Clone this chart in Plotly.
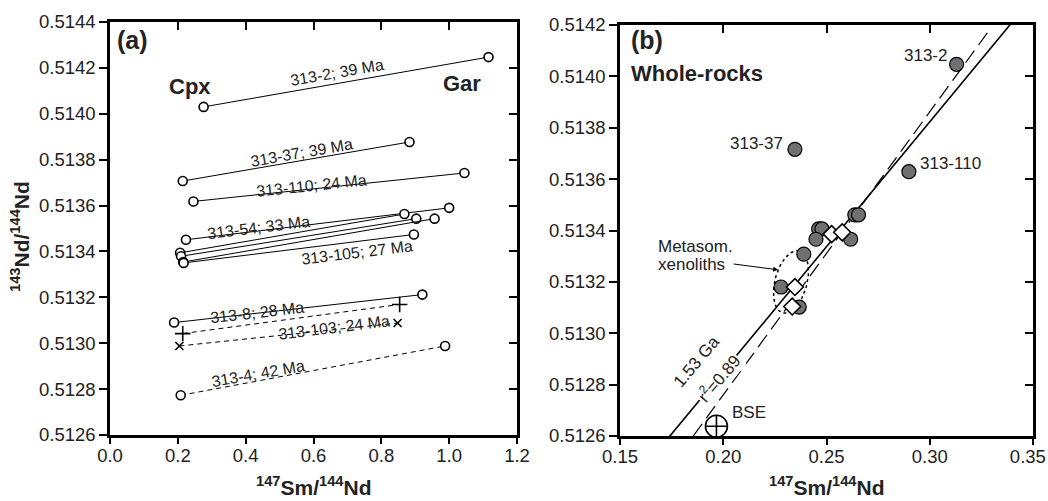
import numpy as np
import plotly.graph_objects as go

W, H = 1048, 501
FONT = "Liberation Sans, Arial, Helvetica, sans-serif"

# ---------------- Panel (a): Cpx - Gar two-point isochrons ----------------
cpx_x = [0.276, 0.2145, 0.246, 0.224, 0.2066, 0.2095, 0.216, 0.217, 0.189, 0.2145, 0.2045, 0.2085]
cpx_y = [0.51403, 0.513707, 0.513618, 0.513451, 0.513394, 0.513379, 0.513354, 0.51335,
         0.51309, 0.513042, 0.512988, 0.512773]
gar_x = [1.116, 0.883, 1.045, 1.0, 0.868, 0.903, 0.957, 0.896, 0.921, 0.854, 0.848, 0.988]
gar_y = [0.514247, 0.513877, 0.513742, 0.51359, 0.513563, 0.513543, 0.513543, 0.513474,
         0.513212, 0.513169, 0.513088, 0.512988]
pair_dash = ["solid"] * 9 + ["dash", "dash", "dash"]
pair_symbol = ["circle"] * 9 + ["cross-thin-open", "x-thin-open", "circle"]

lab_a_text = ["313-2; 39 Ma", "313-37; 39 Ma", "313-110; 24 Ma", "313-54; 33 Ma",
              "313-105; 27 Ma", "313-8; 28 Ma", "313-103; 24 Ma", "313-4; 42 Ma"]
lab_a_x = [0.669, 0.566, 0.595, 0.437, 0.728, 0.433, 0.66, 0.4376]
lab_a_y = [0.514178, 0.513833, 0.513688, 0.513506, 0.513397, 0.513136, 0.51307, 0.512867]
lab_a_angle = [-10, -10, -6, -7, -7, -6.5, -7, -10]

# ---------------- Panel (b): whole rocks ----------------
wr_x = [0.313, 0.2347, 0.2899, 0.2637, 0.2655, 0.2462, 0.2478, 0.2449, 0.2617, 0.2390, 0.2280, 0.2368]
wr_y = [0.514047, 0.513716, 0.513629, 0.513461, 0.513461, 0.513406, 0.513406, 0.513366,
        0.513366, 0.513308, 0.51318, 0.513102]
wr_labels = ["313-2", "313-37", "313-110"]
dia_x = [0.2525, 0.2576, 0.2347, 0.2334]
dia_y = [0.513386, 0.513393, 0.51318, 0.513104]
bse_x, bse_y = 0.1967, 0.512638

iso_slope, iso_intercept = 0.00972, 0.510907      # 1.53 Ga reference line
fit_slope, fit_intercept = 0.01102, 0.510556      # regression, r2 = 0.89
fit_y_end = 0.514174

ell_cx, ell_cy = 0.2328, 0.5132                   # metasomatised xenoliths envelope
ell_a_px, ell_b_px, ell_angle = 32, 16, 75

# tick values
ticks_a_x = [0.0, 0.2, 0.4, 0.6, 0.8, 1.0, 1.2]
ticks_b_x = [0.15, 0.20, 0.25, 0.30, 0.35]
ticks_a_y = [0.5126, 0.5128, 0.5130, 0.5132, 0.5134, 0.5136, 0.5138, 0.5140, 0.5142, 0.5144]
ticks_b_y = [0.5126, 0.5128, 0.5130, 0.5132, 0.5134, 0.5136, 0.5138, 0.5140, 0.5142]

# ---------------- layout geometry ----------------
dom_a_x = [110 / W, 517 / W]
dom_a_y = [(H - 435) / H, (H - 22) / H]
dom_b_x = [620 / W, 1033 / W]
dom_b_y = [(H - 436) / H, (H - 25) / H]
rng_a_x, rng_a_y = [0.0, 1.2], [0.5126, 0.5144]
rng_b_x, rng_b_y = [0.15, 0.35], [0.5126, 0.5142]

fig = go.Figure()

for i in range(len(cpx_x)):
    sym = pair_symbol[i]
    size = 9 if sym == "circle" else (11 if sym.startswith("cross") else 8)
    fig.add_trace(go.Scatter(
        x=[cpx_x[i], gar_x[i]], y=[cpx_y[i], gar_y[i]], mode="lines+markers",
        line=dict(color="black", width=1, dash="5px,4px" if pair_dash[i] == "dash" else "solid"),
        marker=dict(symbol=sym, size=size, color="white" if sym == "circle" else "black",
                    line=dict(color="black", width=1.6)),
        xaxis="x", yaxis="y", showlegend=False, hoverinfo="skip"))

# panel (b) lines
xb = np.linspace(rng_b_x[0], rng_b_x[1], 50)
fig.add_trace(go.Scatter(x=xb, y=iso_intercept + iso_slope * xb, mode="lines",
                         line=dict(color="black", width=1.6), xaxis="x2", yaxis="y2",
                         showlegend=False, hoverinfo="skip"))
xd0 = (rng_b_y[0] - fit_intercept) / fit_slope
xd1 = (fit_y_end - fit_intercept) / fit_slope
xd = np.linspace(xd0, xd1, 50)
fig.add_trace(go.Scatter(x=xd, y=fit_intercept + fit_slope * xd, mode="lines",
                         line=dict(color="black", width=1.2, dash="15px,7px"), xaxis="x2", yaxis="y2",
                         showlegend=False, hoverinfo="skip"))

# ellipse (dotted) built from its parameters in pixel space
pxx = (dom_b_x[1] - dom_b_x[0]) * W / (rng_b_x[1] - rng_b_x[0])
pxy = (dom_b_y[1] - dom_b_y[0]) * H / (rng_b_y[1] - rng_b_y[0])
t = np.linspace(0, 2 * np.pi, 120)
th = np.deg2rad(ell_angle)
ex = ell_a_px * np.cos(t) * np.cos(th) - ell_b_px * np.sin(t) * np.sin(th)
ey = ell_a_px * np.cos(t) * np.sin(th) + ell_b_px * np.sin(t) * np.cos(th)
fig.add_trace(go.Scatter(x=ell_cx + ex / pxx, y=ell_cy + ey / pxy, mode="lines",
                         line=dict(color="black", width=1.5, dash="3px,3px"),
                         xaxis="x2", yaxis="y2", showlegend=False, hoverinfo="skip"))

fig.add_trace(go.Scatter(x=wr_x, y=wr_y, mode="markers",
                         marker=dict(symbol="circle", size=14, color="#707070",
                                     line=dict(color="black", width=1.2)),
                         xaxis="x2", yaxis="y2", showlegend=False, hoverinfo="skip"))
fig.add_trace(go.Scatter(x=dia_x, y=dia_y, mode="markers",
                         marker=dict(symbol="diamond", size=13, color="white",
                                     line=dict(color="black", width=1.6)),
                         xaxis="x2", yaxis="y2", showlegend=False, hoverinfo="skip"))
fig.add_trace(go.Scatter(x=[bse_x], y=[bse_y], mode="markers",
                         marker=dict(symbol="circle-cross-open", size=22, color="black",
                                     line=dict(color="black", width=1.6)),
                         xaxis="x2", yaxis="y2", showlegend=False, hoverinfo="skip",
                         cliponaxis=False))

# dummy traces for extra tick-only axes
for xa, ya in [("x3", "y"), ("x", "y3"), ("x4", "y2"), ("x2", "y4"), ("x5", "y"), ("x6", "y2")]:
    fig.add_trace(go.Scatter(x=[None], y=[None], xaxis=xa, yaxis=ya, showlegend=False,
                             hoverinfo="skip"))

tickfont = dict(family=FONT, size=18.5, color="#222")
common = dict(showgrid=False, zeroline=False, showline=True, linecolor="black", linewidth=2.5,
              mirror=True, ticks="outside", ticklen=8, tickwidth=2, tickcolor="black",
              tickfont=tickfont, automargin=False, tickmode="array", ticklabeloverflow="allow")
inside = dict(showgrid=False, zeroline=False, showline=False, ticks="inside", ticklen=8,
              tickwidth=2, tickcolor="black", showticklabels=False, automargin=False,
              tickmode="array")
outside = dict(inside, ticks="outside")
xcommon = dict(common, ticklen=2)

ticktext_b_x = [f"{v:.2f}" for v in ticks_b_x]
ticktext_b_x[-1] = ticktext_b_x[-1] + "\u00a0\u00a0"   # keep the last label inside the page

fig.update_layout(
    width=W, height=H, margin=dict(l=0, r=0, t=0, b=0),
    paper_bgcolor="white", plot_bgcolor="white",
    xaxis=dict(domain=dom_a_x, range=rng_a_x, tickvals=ticks_a_x,
               ticktext=[f"{v:.1f}" for v in ticks_a_x], anchor="y", **xcommon),
    yaxis=dict(domain=dom_a_y, range=rng_a_y, tickvals=ticks_a_y,
               ticktext=[f"{v:.4f}" for v in ticks_a_y], anchor="x", **common),
    xaxis2=dict(domain=dom_b_x, range=rng_b_x, tickvals=ticks_b_x,
                ticktext=ticktext_b_x, anchor="y2", **xcommon),
    yaxis2=dict(domain=dom_b_y, range=rng_b_y, tickvals=ticks_b_y,
                ticktext=[f"{v:.4f}" for v in ticks_b_y], anchor="x2", **common),
    xaxis3=dict(overlaying="x", side="top", anchor="y", range=rng_a_x, tickvals=ticks_a_x, **inside),
    yaxis3=dict(overlaying="y", side="right", anchor="x", range=rng_a_y, tickvals=ticks_a_y, **inside),
    xaxis4=dict(overlaying="x2", side="top", anchor="y2", range=rng_b_x, tickvals=ticks_b_x, **inside),
    yaxis4=dict(overlaying="y2", side="right", anchor="x2", range=rng_b_y, tickvals=ticks_b_y, **inside),
    xaxis5=dict(overlaying="x", side="bottom", anchor="y", range=rng_a_x, tickvals=ticks_a_x, **outside),
    xaxis6=dict(overlaying="x2", side="bottom", anchor="y2", range=rng_b_x, tickvals=ticks_b_x, **outside),
)

ann = []
lab_font = dict(family=FONT, size=16, color="#222")
for txt, x, y, a in zip(lab_a_text, lab_a_x, lab_a_y, lab_a_angle):
    ann.append(dict(x=x, y=y, xref="x", yref="y", text=txt, textangle=a, showarrow=False,
                    font=lab_font))
bold_big = dict(family=FONT, size=25, color="#222")
bold_mid = dict(family=FONT, size=22, color="#222")
ann += [
    dict(x=0.014, y=0.514323, xref="x", yref="y", text="<b>(a)</b>", xanchor="left",
         yanchor="middle", showarrow=False, font=bold_big),
    dict(x=0.236, y=0.51412, xref="x", yref="y", text="<b>Cpx</b>", showarrow=False, font=bold_mid),
    dict(x=1.038, y=0.514131, xref="x", yref="y", text="<b>Gar</b>", showarrow=False, font=bold_mid),
    dict(x=0.1545, y=0.514143, xref="x2", yref="y2", text="<b>(b)</b>", xanchor="left",
         yanchor="middle", showarrow=False, font=bold_big),
    dict(x=0.1545, y=0.51401, xref="x2", yref="y2", text="<b>Whole-rocks</b>", xanchor="left",
         yanchor="middle", showarrow=False, font=bold_mid),
]
pt_font = dict(family=FONT, size=17, color="#222")
ann += [
    dict(x=0.3091, y=0.514083, xref="x2", yref="y2", text=wr_labels[0], xanchor="right",
         yanchor="middle", showarrow=False, font=pt_font),
    dict(x=0.2298, y=0.51374, xref="x2", yref="y2", text=wr_labels[1], xanchor="right",
         yanchor="middle", showarrow=False, font=pt_font),
    dict(x=0.2941, y=0.513662, xref="x2", yref="y2", text=wr_labels[2], xanchor="left",
         yanchor="middle", showarrow=False, font=pt_font),
    dict(x=0.1673, y=0.513336, xref="x2", yref="y2", text="Metasom.", xanchor="left",
         yanchor="middle", showarrow=False, font=pt_font),
    dict(x=0.1673, y=0.513266, xref="x2", yref="y2", text="xenoliths", xanchor="left",
         yanchor="middle", showarrow=False, font=pt_font),
    dict(x=0.2266, y=0.513247, xref="x2", yref="y2", text="", showarrow=True, axref="pixel",
         ayref="pixel", ax=-46, ay=-6, arrowhead=2, arrowsize=1, arrowwidth=1, arrowcolor="black"),
    dict(x=0.1871, y=0.51289, xref="x2", yref="y2", text="1.53 Ga", textangle=-50,
         xanchor="center", yanchor="middle", showarrow=False, font=pt_font),
    dict(x=0.1976, y=0.512825, xref="x2", yref="y2", text="r<sup>2</sup>=0.89", textangle=-50,
         xanchor="center", yanchor="middle", showarrow=False, font=pt_font, bgcolor="white"),
    dict(x=0.2032, y=0.512691, xref="x2", yref="y2", text="BSE", xanchor="left",
         yanchor="middle", showarrow=False, font=pt_font),
]
title_font = dict(family=FONT, size=21, color="#222")
ann += [
    dict(x=(dom_a_x[0] + dom_a_x[1]) / 2, y=15 / H, xref="paper", yref="paper",
         xanchor="center", yanchor="middle",
         text="<b><sup>147</sup>Sm/<sup>144</sup>Nd</b>", showarrow=False, font=title_font),
    dict(x=(dom_b_x[0] + dom_b_x[1]) / 2, y=15 / H, xref="paper", yref="paper",
         xanchor="center", yanchor="middle",
         text="<b><sup>147</sup>Sm/<sup>144</sup>Nd</b>", showarrow=False, font=title_font),
    dict(x=20 / W, y=(H - 237) / H, xref="paper", yref="paper", textangle=-90,
         xanchor="center", yanchor="middle",
         text="<b><sup>143</sup>Nd/<sup>144</sup>Nd</b>", showarrow=False, font=title_font),
]
fig.update_layout(annotations=ann)
fig.write_html("out.html")
